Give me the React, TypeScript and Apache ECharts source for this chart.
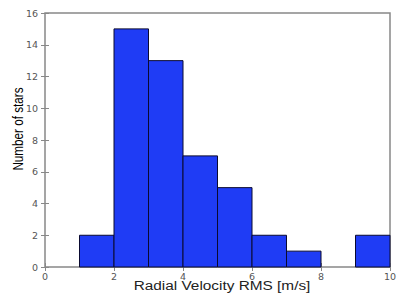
import React, { useEffect, useRef } from "react";
import * as echarts from "echarts";

const binStarts = [1, 2, 3, 4, 5, 6, 7, 8, 9];
const binEnds = [2, 3, 4, 5, 6, 7, 8, 9, 10];
const counts = [2, 15, 13, 7, 5, 2, 1, 0, 2];
const xTicks = [0, 2, 4, 6, 8, 10];
const yTicks = [0, 2, 4, 6, 8, 10, 12, 14, 16];
const xTitle = "Radial Velocity RMS [m/s]";
const yTitle = "Number of stars";

export default function App() {
  const ref = useRef<HTMLDivElement>(null);
  useEffect(() => {
    const chart = echarts.init(ref.current!, null, { renderer: "svg" });
    const data = binStarts.map((s, i) => [s, binEnds[i], counts[i]]);
    const axisLine = { show: false };
    const tickStyle = { show: true, inside: true, length: 4, lineStyle: { color: "#888", width: 1 } };
    const labelStyle = { color: "#555", fontFamily: "DejaVu Sans", fontSize: 9.5 };
    chart.setOption({
      animation: false,
      grid: { left: 45, top: 13, width: 345, height: 254, show: true, borderColor: "#888", borderWidth: 1.5, backgroundColor: "#fff" },
      xAxis: [
        {
          type: "value", min: xTicks[0], max: xTicks[xTicks.length - 1], interval: 2,
          axisLine, axisTick: tickStyle, splitLine: { show: false },
          axisLabel: { ...labelStyle, margin: 4 },
        },
        {
          type: "value", position: "top", min: 0, max: 10, interval: 2,
          axisLine, axisTick: tickStyle, axisLabel: { show: false }, splitLine: { show: false },
        },
      ],
      yAxis: [
        {
          type: "value", min: yTicks[0], max: yTicks[yTicks.length - 1], interval: 2,
          axisLine, axisTick: tickStyle, splitLine: { show: false },
          axisLabel: { ...labelStyle, margin: 7 },
        },
        {
          type: "value", position: "right", min: 0, max: 16, interval: 2,
          axisLine, axisTick: tickStyle, axisLabel: { show: false }, splitLine: { show: false },
        },
      ],
      graphic: [
        {
          type: "text", x: 18, y: 129, rotation: Math.PI / 2, scaleX: 0.78,
          style: {
            text: yTitle, fill: "#000", font: "15px 'Liberation Sans'",
            align: "center", verticalAlign: "middle",
          },
        },
        {
          type: "text", x: 222, y: 286, scaleX: 1.23,
          style: {
            text: xTitle, fill: "#222", font: "12.5px 'Liberation Sans'",
            align: "center", verticalAlign: "middle",
          },
        },
      ],
      series: [
        {
          type: "custom",
          data,
          encode: { x: [0, 1], y: 2 },
          renderItem: (params: any, api: any) => {
            if (!api.value(2)) return null;
            const p0 = api.coord([api.value(0), api.value(2)]);
            const p1 = api.coord([api.value(1), 0]);
            return {
              type: "rect",
              shape: { x: p0[0], y: p0[1], width: p1[0] - p0[0], height: p1[1] - p0[1] },
              style: { fill: "#1f3cf5", stroke: "#0a0a30", lineWidth: 1 },
            };
          },
        },
      ],
    });
    return () => chart.dispose();
  }, []);
  return <div ref={ref} style={{ width: 409, height: 300, position: "absolute", left: 0, top: 0 }} />;
}
